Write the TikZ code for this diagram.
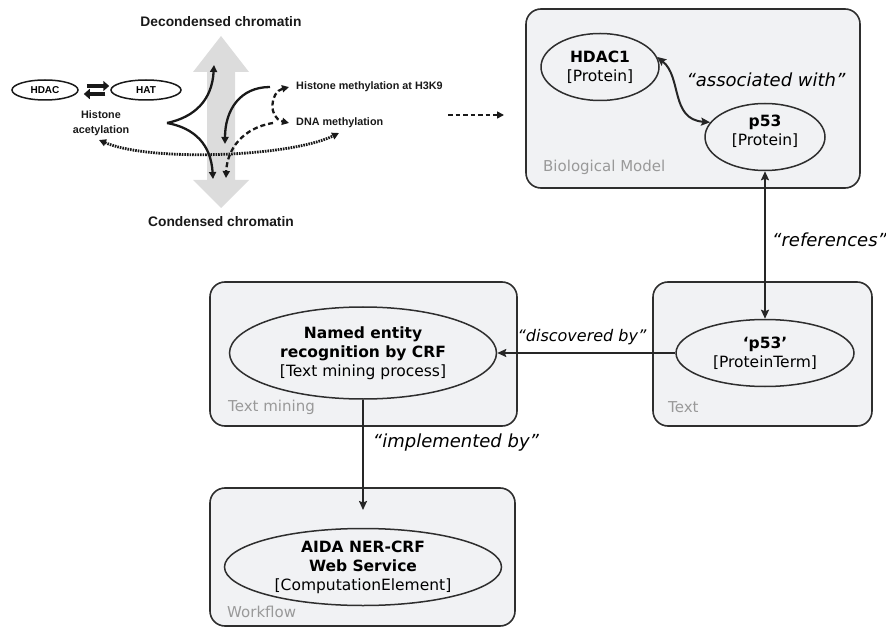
\documentclass[tikz,border=0pt]{standalone}
\usepackage{fontspec}
\setmainfont{DejaVu Sans}[ItalicFont={DejaVu Sans Oblique},BoldFont={DejaVu Sans Bold},BoldItalicFont={DejaVu Sans Bold Oblique}]
\newfontfamily\chromfont{Liberation Sans}
\usetikzlibrary{shapes.geometric,arrows.meta}

\definecolor{panelfill}{HTML}{F1F2F4}
\definecolor{panelline}{HTML}{2E2E2E}
\definecolor{chromgray}{HTML}{DCDCDC}

\tikzset{
  panel/.style={draw=panelline, line width=1.6pt, fill=panelfill, rounded corners=15pt},
  entity/.style={ellipse, draw=panelline, line width=1.5pt, fill=panelfill, inner sep=0pt,
    align=center, font=\fontsize{15.5}{19}\selectfont},
  entitytext/.style={inner sep=0pt, align=center, font=\fontsize{15.5}{19}\selectfont},
  panellabel/.style={text=black!40, font=\fontsize{15}{18}\selectfont, anchor=west, inner sep=0pt},
  rel/.style={font=\fontsize{18}{20}\selectfont\itshape, inner sep=0pt},
  link/.style={line width=2pt, draw=black!85, -{Stealth[length=9pt,width=8pt,inset=1.5pt]}},
  twoway/.style={line width=2pt, draw=black!85,
    {Stealth[length=9pt,width=8pt,inset=1.5pt]}-{Stealth[length=9pt,width=8pt,inset=1.5pt]}},
  chromtext/.style={font=\chromfont\bfseries\fontsize{10.8}{14.5}\selectfont, inner sep=0pt, text=black!90, align=center},
  chromtitle/.style={font=\chromfont\bfseries\fontsize{13.8}{16}\selectfont, inner sep=0pt, text=black!90},
  enzyme/.style={ellipse, draw=black!90, line width=1.5pt, inner sep=0pt,
    font=\chromfont\bfseries\fontsize{10}{11}\selectfont},
  tip/.style={-{Triangle[length=7pt,width=7pt]}},
  bothtips/.style={{Triangle[length=7pt,width=7pt]}-{Triangle[length=7pt,width=7pt]}},
  effect/.style={line width=2.3pt, draw=black!90},
  effectdash/.style={line width=2.3pt, draw=black!90, dash pattern=on 5pt off 3pt},
  effectdot/.style={line width=2.8pt, draw=black!90, dash pattern=on 1.6pt off 1pt},
}

\begin{document}
\begin{tikzpicture}[x=1pt,y=-1pt]
\useasboundingbox (0,0) rectangle (886,628);

% ---------- chromatin state scheme ----------
\fill[chromgray] (221,36) -- (249,72) -- (235,72) -- (235,180) -- (249,180) -- (221,208)
  -- (193,180) -- (207,180) -- (207,72) -- (193,72) -- cycle;

\node[chromtitle] (decond) at (221,22) {Decondensed chromatin};
\node[chromtitle] (cond) at (221,222) {Condensed chromatin};

\node[enzyme, minimum width=66pt, minimum height=20pt] (hdac) at (45,90) {HDAC};
\node[enzyme, minimum width=70pt, minimum height=20pt] (hat) at (146,90) {HAT};
\draw[line width=3.8pt, draw=black!90, -{Triangle[length=6pt,width=10pt]}, shorten <=8pt, shorten >=1pt]
  ([yshift=4pt]hdac.east) -- ([yshift=4pt]hat.west);
\draw[line width=3.8pt, draw=black!90, -{Triangle[length=6pt,width=10pt]}, shorten <=5pt, shorten >=5pt]
  ([yshift=-4pt]hat.west) -- ([yshift=-4pt]hdac.east);

\node[chromtext] (acet) at (101,123) {Histone\\acetylation};
\node[chromtext, anchor=west] (hm) at (296,87) {Histone methylation at H3K9};
\node[chromtext, anchor=west] (dna) at (296,123) {DNA methylation};

\coordinate (cusp) at (167,123);
\coordinate (uptip) at (214,65);
\coordinate (downtip) at (213,179);
\coordinate (hmfrom) at ([xshift=-26pt]hm.west);
\coordinate (hmtip) at ([xshift=-7pt]hm.west);
\coordinate (dnatip) at ([xshift=-7pt]dna.west);
\coordinate (dnafrom) at ([xshift=-23pt]dna.west);
\coordinate (hmdown) at (225,144);
\coordinate (dnadown) at (226,178);
\coordinate (acetend) at (99,140);
\coordinate (methend) at (339,133);

\draw[effect, tip] (cusp) .. controls (195,117) and (212,100) .. (uptip);
\draw[effect, tip] (cusp) .. controls (195,128) and (211,145) .. (downtip);
\draw[effect, tip] (hmfrom) .. controls (240,87) and (225,110) .. (hmdown);
\draw[effectdash, bothtips] (hmtip) .. controls (270,92) and (268,118) .. (dnatip);
\draw[effectdash, tip] (dnafrom) .. controls (242,128) and (227,150) .. (dnadown);
\draw[effectdot, bothtips] (acetend) .. controls (150,162) and (290,157) .. (methend);

% link from the scheme to the model
\coordinate (schemeout) at (448,115);
\coordinate (modelin) at (504,115);
\draw[line width=1.6pt, draw=black!90, dash pattern=on 4.5pt off 3pt,
  -{Triangle[length=7pt,width=7pt]}] (schemeout) -- (modelin);

% ---------- panels ----------
\draw[panel] (526,9) rectangle (860,188);
\draw[panel] (653,282) rectangle (872,426);
\draw[panel] (210,282) rectangle (517,426);
\draw[panel] (210,488) rectangle (515,626);

\node[panellabel] (biolabel) at (543,167) {Biological Model};
\node[panellabel] (textlabel) at (668,407) {Text};
\node[panellabel] (tmlabel) at (228,407) {Text mining};
\node[panellabel] (wflabel) at (227,612) {Workflow};

% ---------- entities ----------
\node[entity, minimum width=118pt, minimum height=67pt] (hdac1) at (600,67)
  {\textbf{HDAC1}\\{[Protein]}};
\node[entity, minimum width=120pt, minimum height=67pt] (p53) at (765,137) {};
\node[entitytext] (p53txt) at (765,131) {\textbf{p53}\\{[Protein]}};
\node[entity, minimum width=178pt, minimum height=67pt] (p53term) at (765,353)
  {\textbf{‘p53’}\\{[ProteinTerm]}};
\node[entity, minimum width=267pt, minimum height=92pt] (ner) at (363,353)
  {\textbf{Named entity}\\\textbf{recognition by CRF}\\{[Text mining process]}};
\node[entity, minimum width=277pt, minimum height=77pt] (aida) at (363,567)
  {\textbf{AIDA NER-CRF}\\\textbf{Web Service}\\{[ComputationElement]}};

% ---------- relations ----------
\draw[twoway] (hdac1.10) .. controls +(25,20) and +(-40,-3) .. (p53.165);
\node[rel] (assoc) at (766,80) {“associated with”};

\draw[twoway] (p53.south) -- (p53term.north);
\node[rel, anchor=west] (refs) at (772,240) {“references”};

\draw[link] (p53term.west) -- (ner.east);
\node[rel, font=\fontsize{16}{18}\selectfont\itshape] (disc) at (582,337) {“discovered by”};

\coordinate (aidain) at (363,510);
\draw[link] (ner.south) -- (aidain);
\node[rel] (impl) at (456,443) {“implemented by”};
\end{tikzpicture}
\end{document}
